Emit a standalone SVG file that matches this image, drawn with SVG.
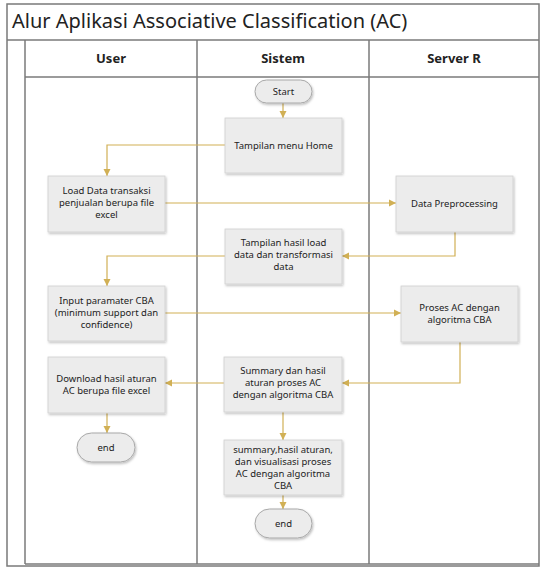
<svg xmlns="http://www.w3.org/2000/svg" width="546" height="572" viewBox="0 0 546 572">
<style>
.frame{fill:none;stroke:#7a7a7a;stroke-width:1.5}
.lane{fill:none;stroke:#7a7a7a;stroke-width:1.5}
.box{fill:#ececec;stroke:#d0d0d0;stroke-width:0.8;filter:url(#sh)}
.term{fill:#ececec;stroke:#a8a8a8;stroke-width:1;filter:url(#sh)}
.t{font-family:"Noto Sans","Open Sans",sans-serif;font-size:9.5px;fill:#222;text-anchor:middle}
.h{font-family:"Noto Sans","Open Sans",sans-serif;font-size:13px;font-weight:bold;fill:#222;text-anchor:middle}
.title{font-family:"Noto Sans","Open Sans",sans-serif;font-size:20px;fill:#222}
.c{fill:none;stroke:#d1b055;stroke-width:1.2;marker-end:url(#ah)}
</style>
<defs>
<marker id="ah" markerWidth="8" markerHeight="8" refX="7" refY="4" orient="auto" markerUnits="userSpaceOnUse">
<path d="M0,0.5 L7,4 L0,7.5 Z" fill="#d1b055"/>
</marker>
<filter id="sh" x="-10%" y="-10%" width="130%" height="130%">
<feDropShadow dx="1" dy="1.5" stdDeviation="1" flood-color="#000" flood-opacity="0.25"/>
</filter>
</defs>
<rect width="546" height="572" fill="#fff"/>
<g id="pool">
<rect class="frame" x="7" y="4" width="532" height="562"/>
<line class="frame" x1="7" y1="40" x2="539" y2="40"/>
<text class="title" x="12" y="28">Alur Aplikasi Associative Classification (AC)</text>
<line class="lane" x1="25" y1="40" x2="25" y2="564"/>
<line class="lane" x1="25" y1="77" x2="539" y2="77"/>
<line class="lane" x1="197" y1="40" x2="197" y2="564"/>
<line class="lane" x1="369" y1="40" x2="369" y2="564"/>
<line class="lane" x1="25" y1="564" x2="539" y2="564"/>
<text class="h" x="111" y="63">User</text>
<text class="h" x="283" y="63">Sistem</text>
<text class="h" x="454" y="63">Server R</text>
</g>
<g id="connectors">
<path class="c" d="M283,103 V118"/>
<path class="c" d="M225,145 H107 V176"/>
<path class="c" d="M165,203 H396"/>
<path class="c" d="M455,232 V256 H342"/>
<path class="c" d="M225,256 H107 V286"/>
<path class="c" d="M165,313 H401"/>
<path class="c" d="M460,342 V383 H342"/>
<path class="c" d="M224,383 H165"/>
<path class="c" d="M107,413 V433"/>
<path class="c" d="M283,412 V440"/>
<path class="c" d="M283,495 V509"/>
</g>
<g id="start">
<rect class="term" x="255" y="80" width="57" height="23" rx="11.5"/>
<text class="t" x="283.5" y="95">Start</text>
</g>
<g id="home">
<rect class="box" x="225" y="118" width="117" height="55"/>
<text class="t" x="283.5" y="149">Tampilan menu Home</text>
</g>
<g id="load">
<rect class="box" x="48" y="176" width="117" height="56"/>
<text class="t" x="106.5" y="194">Load Data transaksi</text>
<text class="t" x="106.5" y="206">penjualan berupa file</text>
<text class="t" x="106.5" y="218">excel</text>
</g>
<g id="prep">
<rect class="box" x="396" y="176" width="117" height="56"/>
<text class="t" x="454.5" y="207">Data Preprocessing</text>
</g>
<g id="hasilload">
<rect class="box" x="225" y="229" width="117" height="55"/>
<text class="t" x="283.5" y="246">Tampilan hasil load</text>
<text class="t" x="283.5" y="258">data dan transformasi</text>
<text class="t" x="283.5" y="270">data</text>
</g>
<g id="input">
<rect class="box" x="48" y="286" width="117" height="55"/>
<text class="t" x="106.5" y="304">Input paramater CBA</text>
<text class="t" x="106.5" y="316">(minimum  support dan</text>
<text class="t" x="106.5" y="328">confidence)</text>
</g>
<g id="proses">
<rect class="box" x="401" y="286" width="117" height="56"/>
<text class="t" x="459.5" y="311">Proses AC dengan</text>
<text class="t" x="459.5" y="323">algoritma CBA</text>
</g>
<g id="summary">
<rect class="box" x="224" y="357" width="118" height="55"/>
<text class="t" x="283" y="374">Summary dan hasil</text>
<text class="t" x="283" y="386">aturan proses AC</text>
<text class="t" x="283" y="398">dengan algoritma CBA</text>
</g>
<g id="download">
<rect class="box" x="48" y="357" width="117" height="56"/>
<text class="t" x="106.5" y="382">Download hasil aturan</text>
<text class="t" x="106.5" y="394">AC berupa file excel</text>
</g>
<g id="end1">
<rect class="term" x="77" y="433" width="58" height="29" rx="14.5"/>
<text class="t" x="106" y="451">end</text>
</g>
<g id="summary2">
<rect class="box" x="224" y="440" width="118" height="55"/>
<text class="t" x="283" y="453">summary,hasil aturan,</text>
<text class="t" x="283" y="465">dan visualisasi proses</text>
<text class="t" x="283" y="477">AC dengan algoritma</text>
<text class="t" x="283" y="489">CBA</text>
</g>
<g id="end2">
<rect class="term" x="255" y="509" width="57" height="29" rx="14.5"/>
<text class="t" x="283.5" y="527">end</text>
</g>
</svg>
